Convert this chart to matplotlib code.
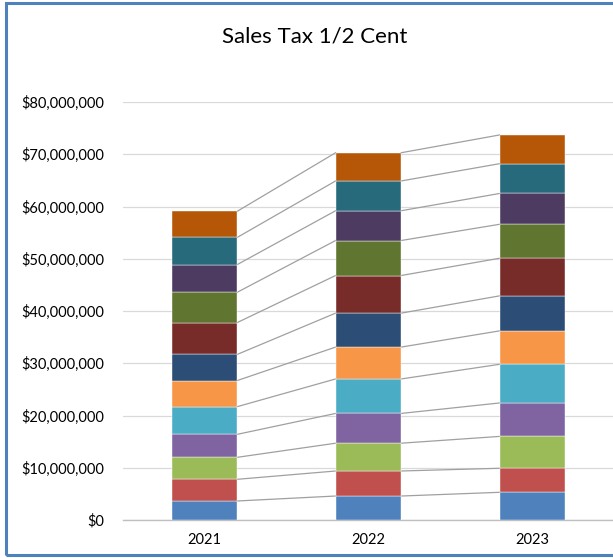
import numpy as np
import matplotlib
matplotlib.use("Agg")
import matplotlib.pyplot as plt
from matplotlib.patches import Rectangle
from matplotlib.ticker import FuncFormatter

plt.rcParams['font.family'] = ['Lato', 'DejaVu Sans']

years = ["2021", "2022", "2023"]
months = ["Jan", "Feb", "Mar", "Apr", "May", "Jun",
          "Jul", "Aug", "Sep", "Oct", "Nov", "Dec"]

# monthly amounts, millions of dollars
sales_2021 = [3.64, 4.15, 4.21, 4.40, 5.30, 5.00, 5.00, 6.10, 5.80, 5.30, 5.20, 5.00]
sales_2022 = [4.59, 4.79, 5.32, 5.70, 6.60, 6.10, 6.50, 7.20, 6.70, 5.70, 5.70, 5.40]
sales_2023 = [5.30, 4.60, 6.10, 6.40, 7.40, 6.40, 6.70, 7.20, 6.50, 5.90, 5.70, 5.50]

colors = ["#4F81BD", "#C0504D", "#9BBB59", "#8064A2", "#4BACC6", "#F79646",
          "#2C4D75", "#772C2A", "#5F7530", "#4D3B62", "#276A7C", "#B65708"]

data = np.array([sales_2021, sales_2022, sales_2023]) * 1e6
tops = np.cumsum(data, axis=1)
bottoms = tops - data

fig = plt.figure(figsize=(6.13, 5.58), dpi=100)
ax = fig.add_axes([0.2, 0.0681, 0.802, 0.749])

x = np.arange(len(years))
width = 0.4
for k, m in enumerate(months):
    ax.bar(x, data[:, k], width, bottom=bottoms[:, k], color=colors[k],
           edgecolor="white", linewidth=0.3, label=m, zorder=3)

# series lines between the stacks
for i in range(len(years) - 1):
    for k in range(len(months)):
        ax.plot([x[i] + width / 2, x[i + 1] - width / 2],
                [tops[i, k], tops[i + 1, k]],
                color="#A0A0A0", linewidth=0.9, zorder=2)

ax.set_xlim(-0.5, 2.5)
ax.set_ylim(0, 80e6)
ax.set_yticks(np.arange(0, 80e6 + 1, 10e6))
ax.yaxis.set_major_formatter(FuncFormatter(lambda v, p: "${:,.0f}".format(v)))
ax.set_xticks(x)
ax.set_xticklabels(years)
ax.grid(axis="y", color="#D9D9D9", linewidth=0.9, zorder=0)
for s in ["top", "right", "left"]:
    ax.spines[s].set_visible(False)
ax.spines["bottom"].set_color("#BFBFBF")
ax.spines["bottom"].set_linewidth(1.0)
ax.tick_params(axis="both", length=0, labelsize=10.5, colors="black")
ax.tick_params(axis="y", pad=13)
ax.tick_params(axis="x", pad=9)

fig.text(0.513, 0.935, "Sales Tax 1/2 Cent", ha="center", va="center", fontsize=16)

fig.patches.append(Rectangle((6 / 613, 3 / 558), 1.2, 552 / 558,
                             transform=fig.transFigure, fill=False,
                             edgecolor="#4F81BD", linewidth=2.2))

fig.savefig("out.png", dpi=100)
